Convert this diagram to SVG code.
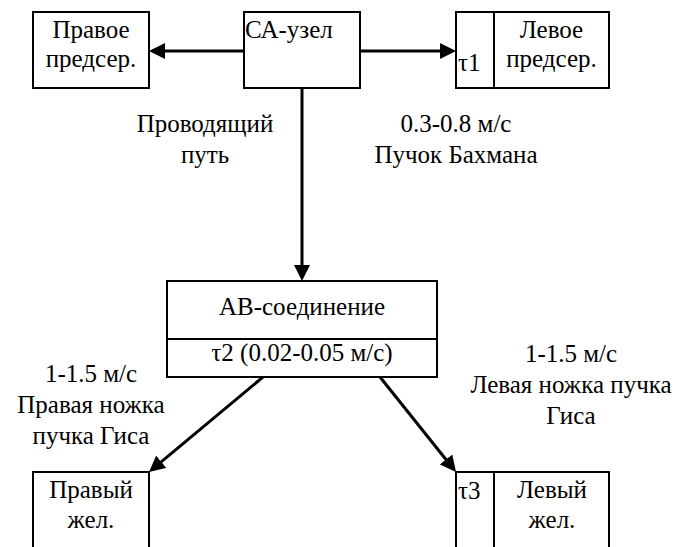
<svg xmlns="http://www.w3.org/2000/svg" width="680" height="547" viewBox="0 0 680 547">
  <style>
    .box { fill: #ffffff; stroke: #000000; stroke-width: 2; }
    .div { stroke: #000000; stroke-width: 2; }
    .t { font-family: "Liberation Serif", "Times New Roman", "DejaVu Serif", serif; font-size: 25px; fill: #000000; }
    .c { text-anchor: middle; }
    .edge { stroke: #000000; stroke-width: 3; fill: none; marker-end: url(#arrow); }
  </style>
  <defs>
    <marker id="arrow" viewBox="0 0 16 16" refX="6" refY="8" markerWidth="16" markerHeight="16" markerUnits="userSpaceOnUse" orient="auto">
      <path d="M0,0 L16,8 L0,16 z" fill="#000000"/>
    </marker>
  </defs>

  <rect width="680" height="547" fill="#ffffff"/>

  <!-- conduction arrows -->
  <g id="connectors">
    <line class="edge" x1="244" y1="51" x2="159" y2="51"/>
    <line class="edge" x1="360" y1="51" x2="446" y2="51"/>
    <line class="edge" x1="302" y1="88" x2="302" y2="271"/>
    <line class="edge" x1="263" y1="377" x2="156.7" y2="465.6"/>
    <line class="edge" x1="380" y1="377" x2="449.75" y2="464.2"/>
  </g>

  <!-- pathway labels -->
  <g id="labels">
    <text class="t c" x="205" y="132">Проводящий</text>
    <text class="t c" x="205" y="163">путь</text>
    <text class="t c" x="456" y="132">0.3-0.8 м/с</text>
    <text class="t c" x="456" y="163">Пучок Бахмана</text>
    <text class="t c" x="91" y="382">1-1.5 м/с</text>
    <text class="t c" x="91" y="413">Правая ножка</text>
    <text class="t c" x="91" y="444">пучка Гиса</text>
    <text class="t c" x="571" y="362">1-1.5 м/с</text>
    <text class="t c" x="571" y="393">Левая ножка пучка</text>
    <text class="t c" x="571" y="424">Гиса</text>
  </g>

  <g id="right-atrium">
    <rect class="box" x="33" y="12" width="116" height="76"/>
    <text class="t c" x="91" y="38">Правое</text>
    <text class="t c" x="91" y="67">предсер.</text>
  </g>

  <g id="sa-node">
    <rect class="box" x="244" y="12" width="116" height="76"/>
    <text class="t" x="245" y="38">СА-узел</text>
  </g>

  <g id="left-atrium">
    <rect class="box" x="456" y="12" width="153" height="76"/>
    <line class="div" x1="494" y1="12" x2="494" y2="88"/>
    <text class="t" x="458" y="71">τ1</text>
    <text class="t c" x="551.5" y="38">Левое</text>
    <text class="t c" x="551.5" y="67">предсер.</text>
  </g>

  <g id="av-node">
    <rect class="box" x="167" y="281" width="270" height="96"/>
    <line class="div" x1="167" y1="339" x2="437" y2="339"/>
    <text class="t c" x="302" y="315">АВ-соединение</text>
    <text class="t c" x="302" y="361">τ2 (0.02-0.05 м/с)</text>
  </g>

  <g id="right-ventricle">
    <rect class="box" x="33" y="472" width="116" height="100"/>
    <text class="t c" x="91" y="498">Правый</text>
    <text class="t c" x="91" y="528">жел.</text>
  </g>

  <g id="left-ventricle">
    <rect class="box" x="456" y="472" width="153" height="100"/>
    <line class="div" x1="494" y1="472" x2="494" y2="572"/>
    <text class="t" x="458" y="499">τ3</text>
    <text class="t c" x="552" y="498">Левый</text>
    <text class="t c" x="552" y="528">жел.</text>
  </g>
</svg>
